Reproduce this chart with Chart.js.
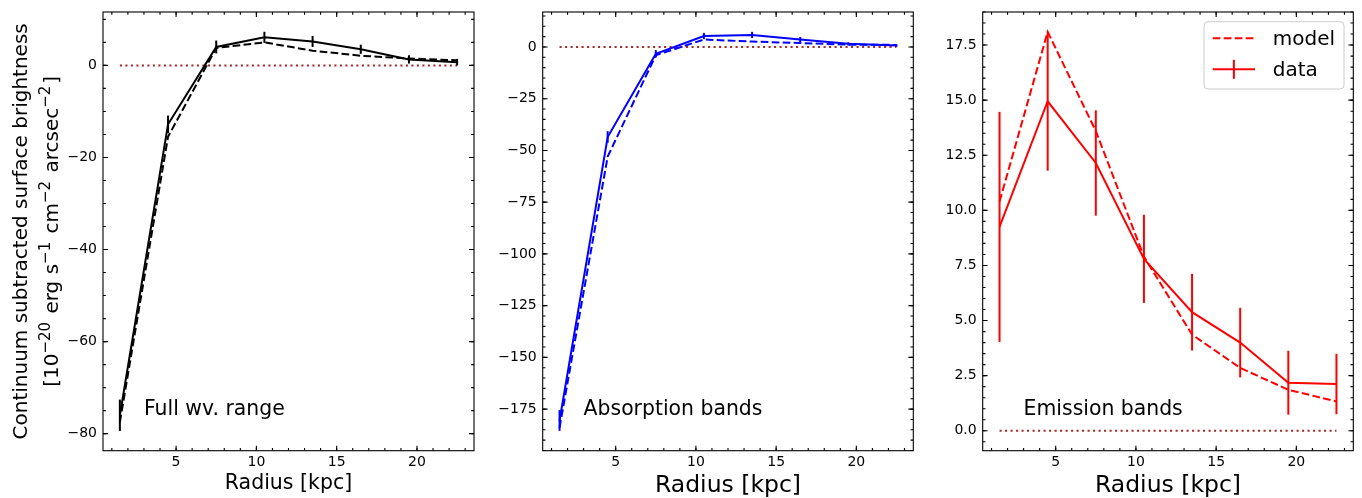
<!DOCTYPE html>
<html lang="en">
<head>
<meta charset="UTF-8">
<title>Continuum subtracted surface brightness profiles</title>
<script src="https://cdn.jsdelivr.net/npm/chart.js"></script>
<style>
  html, body { margin: 0; padding: 0; background: #fff; }
  #wrap { position: relative; width: 1362px; height: 498px; }
  #wrap canvas { position: absolute; top: 0; }
</style>
</head>
<body>
<div id="wrap">
  <canvas id="full" width="480" height="498" style="left:0"></canvas>
  <canvas id="abs" width="440" height="498" style="left:480px"></canvas>
  <canvas id="emi" width="442" height="498" style="left:920px"></canvas>
</div>

<script>
const FONT = 'DejaVu Sans';
Chart.defaults.font.family = FONT;
Chart.defaults.color = '#000';

// radial bins (kpc)
const radius = [1.5, 4.5, 7.5, 10.5, 13.5, 16.5, 19.5, 22.5];
const xTicks = [5, 10, 15, 20];
const xRange = [0.45, 23.55];

// full wavelength range
const fullData  = [-76.0, -12.8, 4.0, 6.1, 5.2, 3.5, 1.3, 0.7];
const fullErr   = [3.4, 1.9, 1.4, 1.2, 1.2, 1.0, 0.9, 0.7];
const fullModel = [-77.5, -15.5, 3.8, 5.0, 3.2, 2.1, 1.5, 1.1];
const fullTicks = [0, -20, -40, -60, -80];
const fullRange = [-83.7, 11.6];

// absorption bands
const absData  = [-180.5, -43.5, -3.3, 5.3, 5.8, 3.6, 1.5, 0.7];
const absErr   = [5.0, 2.8, 1.8, 1.5, 1.5, 1.2, 0.8, 0.6];
const absModel = [-184.0, -53.0, -4.0, 3.6, 2.6, 1.9, 1.1, 1.0];
const absTicks = [0, -25, -50, -75, -100, -125, -150, -175];
const absRange = [-195.1, 16.9];

// emission bands
const emiData  = [9.25, 14.95, 12.15, 7.8, 5.38, 4.0, 2.18, 2.12];
const emiErr   = [5.22, 3.15, 2.39, 2.0, 1.74, 1.58, 1.45, 1.37];
const emiModel = [10.4, 18.1, 13.6, 7.9, 4.36, 2.85, 1.86, 1.33];
const emiTicks = [0, 2.5, 5, 7.5, 10, 12.5, 15, 17.5];
const emiRange = [-0.905, 19.0];

// y label: first line plain, second line as [text, exponent] pieces
const yLabel1 = 'Continuum subtracted surface brightness';
const yLabel2 = [['[10', '\u221220'], [' erg s', '\u22121'], [' cm', '\u22122'], [' arcsec', '\u22122'], [']', '']];

const toPts = vals => vals.map((v, i) => ({x: radius[i], y: v}));
const minus = s => String(s).replace('-', '\u2212');

function drawYLabel(ctx, a) {
    ctx.save();
    ctx.translate(21.5, (a.top + a.bottom) / 2);
    ctx.rotate(-Math.PI / 2);
    ctx.fillStyle = '#000';
    ctx.textBaseline = 'middle';
    ctx.textAlign = 'center';
    ctx.font = '20px ' + FONT;
    ctx.fillText(yLabel1, 0, 0);

    // second line, exponents drawn smaller and raised
    const big = '20px ' + FONT, small = '15px ' + FONT;
    const pieces = [];
    yLabel2.forEach(([t, e]) => {
        ctx.font = big;
        pieces.push({t, f: big, w: ctx.measureText(t).width, up: 0});
        if (e) {
            ctx.font = small;
            pieces.push({t: e, f: small, w: ctx.measureText(e).width + 2, up: 8});
        }
    });
    const total = pieces.reduce((s, p) => s + p.w, 0);
    let cx = -total / 2;
    ctx.textAlign = 'left';
    ctx.textBaseline = 'alphabetic';
    pieces.forEach(p => {
        ctx.font = p.f;
        ctx.fillText(p.t, cx, 36 - p.up);
        cx += p.w;
    });
    ctx.restore();
}

// error bars, inward ticks on all sides, panel text and legend
const panelDecor = {
    id: 'panelDecor',
    afterDatasetsDraw(chart, args, o) {
        const {ctx, scales: {x, y}} = chart;
        const ds = chart.data.datasets[0];
        ctx.save();
        ctx.strokeStyle = ds.borderColor;
        ctx.lineWidth = 2;
        o.err.forEach((e, i) => {
            const px = x.getPixelForValue(ds.data[i].x);
            ctx.beginPath();
            ctx.moveTo(px, y.getPixelForValue(ds.data[i].y + e));
            ctx.lineTo(px, y.getPixelForValue(ds.data[i].y - e));
            ctx.stroke();
        });
        ctx.restore();
    },
    afterDraw(chart, args, o) {
        const {ctx, chartArea: a, scales: {x, y}} = chart;
        ctx.save();
        ctx.strokeStyle = '#000';
        ctx.lineWidth = 1.1;
        ctx.strokeRect(a.left, a.top, a.right - a.left, a.bottom - a.top);

        const mark = (scale, v, len) => {
            const p = scale.getPixelForValue(v);
            ctx.beginPath();
            if (scale.isHorizontal()) {
                ctx.moveTo(p, a.bottom); ctx.lineTo(p, a.bottom - len);
                ctx.moveTo(p, a.top); ctx.lineTo(p, a.top + len);
            } else {
                ctx.moveTo(a.left, p); ctx.lineTo(a.left + len, p);
                ctx.moveTo(a.right, p); ctx.lineTo(a.right - len, p);
            }
            ctx.stroke();
        };
        const minor = (scale, step) => {
            const n0 = Math.ceil(scale.min / step - 1e-9);
            const n1 = Math.floor(scale.max / step + 1e-9);
            for (let n = n0; n <= n1; n++) mark(scale, n * step, 2.8);
        };
        minor(x, 1);
        minor(y, o.yMinor);
        x.ticks.forEach(t => mark(x, t.value, 4.9));
        y.ticks.forEach(t => mark(y, t.value, 4.9));

        // panel label
        ctx.fillStyle = '#000';
        ctx.font = '20.4px ' + FONT;
        ctx.textBaseline = 'alphabetic';
        ctx.fillText(o.label, x.getPixelForValue(3), a.bottom - 35.5);

        if (o.yTitle) drawYLabel(ctx, a);

        if (o.legend) {
            ctx.font = '20px ' + FONT;
            const order = [1, 0];
            const w = 8.7 + 42.3 + 17.7 + Math.max(...order.map(i => ctx.measureText(chart.data.datasets[i].label).width)) + 9;
            const h = 67.3;
            const bx = a.right - 9.3 - w, by = a.top + 9.7;
            ctx.beginPath();
            ctx.roundRect(bx, by, w, h, 4);
            ctx.fillStyle = 'rgba(255,255,255,0.8)';
            ctx.fill();
            ctx.strokeStyle = '#cccccc';
            ctx.lineWidth = 1;
            ctx.stroke();
            order.forEach((di, k) => {
                const ds = chart.data.datasets[di];
                const cy = by + 16.6 + k * 31;
                const hx = bx + 8.7;
                ctx.strokeStyle = ds.borderColor;
                ctx.lineWidth = 2;
                ctx.setLineDash(ds.borderDash || []);
                ctx.beginPath();
                ctx.moveTo(hx, cy); ctx.lineTo(hx + 42.3, cy);
                ctx.stroke();
                ctx.setLineDash([]);
                if (di === 0) {
                    ctx.beginPath();
                    ctx.moveTo(hx + 21.15, cy - 9.5); ctx.lineTo(hx + 21.15, cy + 9.5);
                    ctx.stroke();
                }
                ctx.fillStyle = '#000';
                ctx.textBaseline = 'middle';
                ctx.fillText(ds.label, hx + 42.3 + 17.7, cy + 1);
            });
        }
        ctx.restore();
    }
};

function makePanel(id, p) {
    const datasets = [
        {label: 'data', data: toPts(p.data), borderColor: p.color, borderWidth: 2},
        {label: 'model', data: toPts(p.model), borderColor: p.color, borderWidth: 2, borderDash: [7.7, 3.3]},
        {label: 'zero', data: [{x: radius[0], y: 0}, {x: radius[radius.length - 1], y: 0}],
         borderColor: '#a52a2a', borderWidth: 2, borderDash: [2.1, 3.4]}
    ];
    datasets.forEach(d => { d.pointRadius = 0; d.fill = false; d.tension = 0; });

    return new Chart(document.getElementById(id), {
        type: 'line',
        data: {datasets},
        options: {
            responsive: false,
            animation: false,
            events: [],
            layout: {padding: {top: 12, right: p.padRight, bottom: 0, left: 0}},
            plugins: {
                legend: {display: false},
                tooltip: {enabled: false},
                panelDecor: {err: p.err, yMinor: p.yMinor, label: p.label, legend: p.legend, yTitle: p.yTitle}
            },
            scales: {
                x: {
                    type: 'linear', min: xRange[0], max: xRange[1],
                    afterBuildTicks: s => { s.ticks = xTicks.map(v => ({value: v})); },
                    afterFit: s => { s.height = 47.3; s.paddingLeft = 0; s.paddingRight = 0; },
                    grid: {display: false, drawTicks: false},
                    border: {display: false},
                    ticks: {font: {size: 14}, padding: 3, maxRotation: 0, autoSkip: false},
                    title: {display: true, text: 'Radius [kpc]',
                            font: {size: p.xTitleSize, lineHeight: 1}, padding: {top: 0, bottom: p.xTitlePad}}
                },
                y: {
                    type: 'linear', min: p.range[0], max: p.range[1],
                    afterBuildTicks: s => { s.ticks = p.ticks.map(v => ({value: v})); },
                    afterFit: s => { s.width = p.yWidth; s.paddingTop = 0; s.paddingBottom = 0; },
                    grid: {display: false, drawTicks: false},
                    border: {display: false},
                    ticks: {font: {size: 14}, padding: 6, autoSkip: false,
                            callback: v => minus(p.fmt(v))},
                    title: {display: false}
                }
            }
        },
        plugins: [panelDecor]
    });
}

makePanel('full', {
    data: fullData, err: fullErr, model: fullModel, ticks: fullTicks, range: fullRange,
    color: '#000000', yMinor: 5, fmt: v => v.toFixed(0), label: 'Full wv. range',
    yWidth: 103, padRight: 6, xTitleSize: 20.5, xTitlePad: 4, yTitle: true
});
makePanel('abs', {
    data: absData, err: absErr, model: absModel, ticks: absTicks, range: absRange,
    color: '#0000ff', yMinor: 5, fmt: v => v.toFixed(0), label: 'Absorption bands',
    yWidth: 62.7, padRight: 6.7, xTitleSize: 23.5, xTitlePad: 0
});
makePanel('emi', {
    data: emiData, err: emiErr, model: emiModel, ticks: emiTicks, range: emiRange,
    color: '#ff0000', yMinor: 0.5, fmt: v => v.toFixed(1), label: 'Emission bands',
    yWidth: 62.7, padRight: 8.7, xTitleSize: 23.5, xTitlePad: 0, legend: true
});
</script>
</body>
</html>
